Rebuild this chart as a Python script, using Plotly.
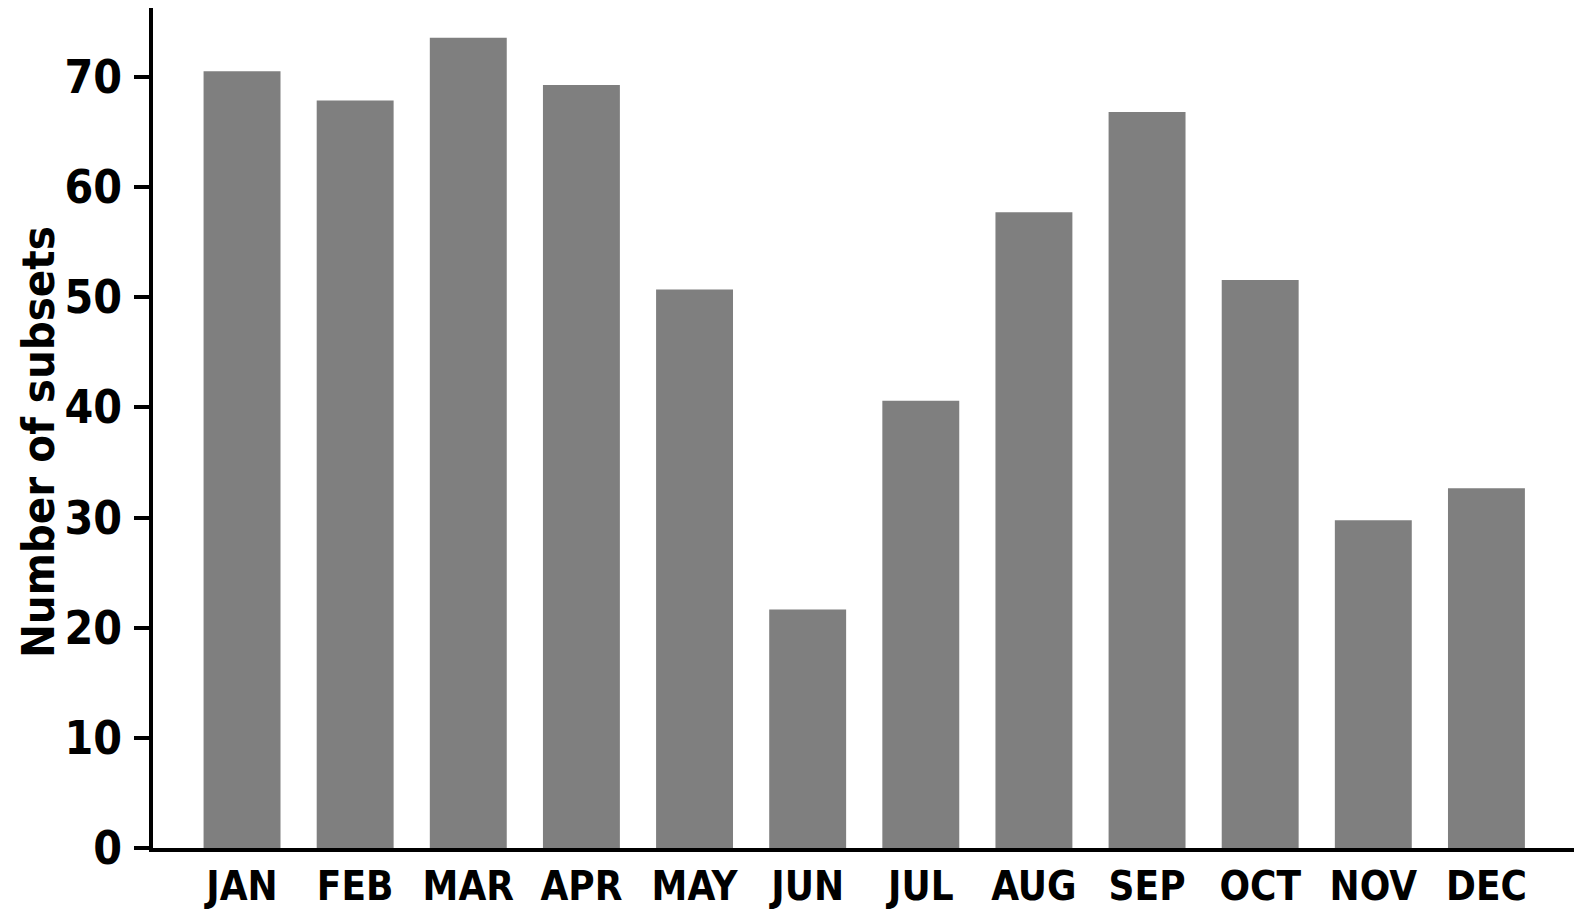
import plotly.graph_objects as go

meses = ["JAN", "FEB", "MAR", "APR", "MAY", "JUN", "JUL", "AUG", "SEP", "OCT", "NOV", "DEC"]
subsets = [70.5, 67.85, 73.55, 69.25, 50.7, 21.65, 40.6, 57.7, 66.8, 51.55, 29.75, 32.65]
yticks = [0, 10, 20, 30, 40, 50, 60, 70]

fonte = "DejaVu Sans Condensed, Roboto, sans-serif"

fig = go.Figure()
fig.add_trace(go.Bar(x=meses, y=subsets, marker=dict(color="#7f7f7f", line=dict(width=0)), width=0.68))

# eixo x: sem ticks, so a linha de base
fig.update_xaxes(range=[-0.787, 11.774], showline=True, linewidth=3.5, linecolor="black",
                 ticks="", showgrid=False, ticklabelstandoff=0, automargin=False,
                 tickfont=dict(family=fonte, size=40, color="black", weight="bold"))
fig.update_yaxes(range=[0, 76.25], tickvals=yticks, showline=True, linewidth=3.5, linecolor="black",
                 ticks="outside", ticklen=15, tickwidth=3.5, tickcolor="black", showgrid=False, zeroline=False,
                 ticklabelstandoff=3, automargin=False,
                 tickfont=dict(family=fonte, size=46, color="black", weight="bold"))

# titulo do eixo y como anotacao, fica um pouco abaixo do centro
fig.add_annotation(text="Number of subsets", xref="paper", yref="paper", x=-0.0809, y=0.4833,
                   xanchor="center", yanchor="middle", textangle=-90, showarrow=False,
                   font=dict(family=fonte, size=45, color="black", weight="bold"))

# a pagina tem 8px de margem no body, por isso 1566x903
fig.update_layout(width=1566, height=903, plot_bgcolor="white", paper_bgcolor="white",
                  margin=dict(l=145, r=0, t=0, b=63), showlegend=False)

fig.write_html("out.html")
